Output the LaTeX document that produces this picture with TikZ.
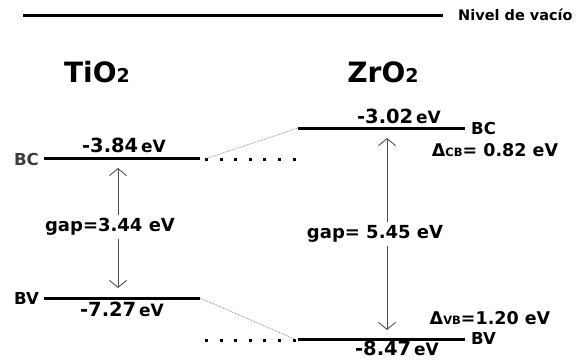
\documentclass[tikz,border=0pt]{standalone}
\usepackage{fontspec}
\setmainfont{DejaVu Sans}
\usetikzlibrary{arrows.meta}
\definecolor{labgray}{RGB}{60,60,60}
\definecolor{arrgray}{RGB}{80,80,80}
\newcommand{\sub}[2][11.5]{{\fontsize{#1}{#1}\selectfont #2}}
\newcommand{\energy}[1]{{\fontsize{19.5}{19.5}\selectfont #1}\,{\fontsize{17}{17}\selectfont eV}}
\tikzset{
  band/.style={line width=3pt},
  dotrow/.style={line width=3pt, dash pattern=on 3pt off 11.6pt},
  link/.style={line width=0.6pt, densely dotted, arrgray},
  gaparrow/.style={line width=0.9pt, arrgray, arrows={-Straight Barb[length=7pt,width=17pt]}},
  lbl/.style={font=\bfseries\fontsize{17.5}{17.5}\selectfont, inner sep=1pt},
  title/.style={font=\bfseries\fontsize{28}{28}\selectfont, inner sep=1pt},
}
\begin{document}
\begin{tikzpicture}[x=1pt,y=-1pt]
  \useasboundingbox (0,0) rectangle (578,360);
  % vacuum level
  \coordinate (vac1) at (23,15);
  \coordinate (vac2) at (443,15);
  \draw [band] (vac1) -- (vac2);
  \node [lbl, font=\bfseries\fontsize{14.5}{14.5}\selectfont, anchor=west] (vac) at (457,15) {Nivel de vacío};
  \node [title] (tio) at (97,72) {TiO\sub[19]{2}};
  \node [title] (zro) at (383,72) {ZrO\sub[19]{2}};
  % TiO2 bands
  \coordinate (tbc1) at (44,158);
  \coordinate (tbc2) at (200,158);
  \coordinate (tbv1) at (44,298);
  \coordinate (tbv2) at (200,298);
  \draw [band] (tbc1) -- (tbc2);
  \draw [band] (tbv1) -- (tbv2);
  \node [lbl, labgray, font=\bfseries\fontsize{16.5}{16.5}\selectfont, anchor=east] (tbc) at (40,159) {BC};
  \node [lbl, font=\bfseries\fontsize{16.5}{16.5}\selectfont, anchor=east] (tbv) at (40,298) {BV};
  \node [lbl] (tbce) at (124,145) {\energy{-3.84}};
  \node [lbl] (tbve) at (122,309) {\energy{-7.27}};
  % ZrO2 bands
  \coordinate (zbc1) at (298,128);
  \coordinate (zbc2) at (465,128);
  \coordinate (zbv1) at (298,339);
  \coordinate (zbv2) at (465,339);
  \draw [band] (zbc1) -- (zbc2);
  \draw [band] (zbv1) -- (zbv2);
  \node [lbl, font=\bfseries\fontsize{16.5}{16.5}\selectfont, anchor=west] (zbc) at (470,128) {BC};
  \node [lbl, font=\bfseries\fontsize{16.5}{16.5}\selectfont, anchor=west] (zbv) at (470,338) {BV};
  \node [lbl] (zbce) at (399,116) {\energy{-3.02}};
  \node [lbl] (zbve) at (397,348) {\energy{-8.47}};
  \node [lbl] (dcb) at (495,150) {Δ\sub{CB}= 0.82 eV};
  \node [lbl] (dvb) at (490,318) {Δ\sub{VB}=1.20 eV};
  % offsets
  \coordinate (dc1) at (205,159);
  \coordinate (dc2) at (297,159);
  \coordinate (dv1) at (205,340);
  \coordinate (dv2) at (297,340);
  \draw [dotrow] (dc1) -- (dc2);
  \draw [dotrow] (dv1) -- (dv2);
  \draw [link] (dc1) -- (zbc1);
  \draw [link] (tbv2) -- (dv2);
  % gaps
  \node [lbl, font=\bfseries\fontsize{18}{18}\selectfont, inner sep=3pt] (tgap) at (110,227) {gap=3.44 eV};
  \node [lbl, font=\bfseries\fontsize{18}{18}\selectfont, inner sep=3pt] (zgap) at (375,234) {gap= 5.45 eV};
  \coordinate (ta1) at (118,168);
  \coordinate (ta2) at (118,288);
  \coordinate (za1) at (387,138);
  \coordinate (za2) at (387,330);
  \draw [gaparrow] (ta1 |- tgap.north) -- (ta1);
  \draw [gaparrow] (ta2 |- tgap.south) -- (ta2);
  \draw [gaparrow] (za1 |- zgap.north) -- (za1);
  \draw [gaparrow] (za2 |- zgap.south) -- (za2);
\end{tikzpicture}
\end{document}
